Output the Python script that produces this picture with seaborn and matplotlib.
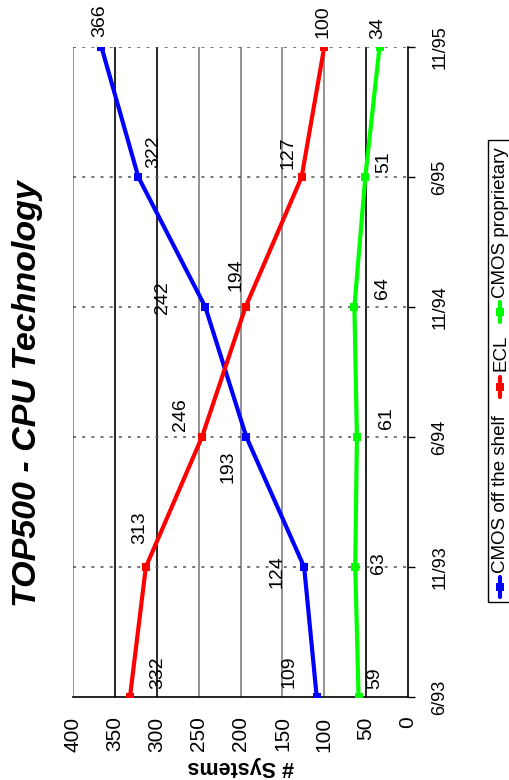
import pandas as pd
import seaborn as sns
import numpy as np
import matplotlib
matplotlib.use('Agg')
import matplotlib.pyplot as plt
from matplotlib.lines import Line2D
from matplotlib.patches import Rectangle

## data
dates = ['6/93', '11/93', '6/94', '11/94', '6/95', '11/95']
cmos_shelf = [109, 124, 193, 242, 322, 366]
ecl = [332, 313, 246, 194, 127, 100]
cmos_prop = [59, 63, 61, 64, 51, 34]
series_names = ['CMOS off the shelf', 'ECL', 'CMOS proprietary']
value_ticks = [0, 50, 100, 150, 200, 250, 300, 350, 400]

colors = ['#0000ff', '#ff0000', '#00ff00']

# label offsets (pixels, chart drawn rotated)
offsets = [
    [(-28, -25), (-27, 5), (-18, 30), (-43, -9), (15, -25), (-2, -26)],
    [(28, -24), (-6, -39), (-21, -22), (-10, -32), (-14, -24), (-1, -25)],
    [(16, -19), (23, -4), (30, -19), (28, -19), (18, -15), (-2, -19)],
]

df = pd.DataFrame({
    'date': dates * 3,
    'pos': list(range(len(dates))) * 3,
    'systems': cmos_shelf + ecl + cmos_prop,
    'series': np.repeat(series_names, len(dates)),
})

sns.set_style('white')
plt.rcParams['font.family'] = ['Liberation Sans', 'DejaVu Sans']
plt.rcParams['text.color'] = 'black'
plt.rcParams['xtick.color'] = 'black'
plt.rcParams['ytick.color'] = 'black'

W, H = 510, 780
fig = plt.figure(figsize=(W / 100, H / 100), dpi=100)
ax = fig.add_axes([73 / W, 1 - 697 / H, (408 - 73) / W, (697 - 47) / H])

def fx(px):
    return px / W

def fy(py):
    return 1 - py / H

## gridlines (value axis drawn horizontally, reversed)
grid_cols = {50: 'black', 100: '#808080', 150: '#808080', 200: '#808080',
             250: '#808080', 300: 'black', 350: 'black', 400: '#808080'}
for v, c in grid_cols.items():
    ax.axvline(v, color=c, lw=1.2, zorder=0)
for i in range(1, len(dates)):
    ax.axhline(i, color='#555555', lw=1.1, linestyle=(0, (2, 4)), zorder=0)

palette = dict(zip(series_names, colors))
sns.lineplot(data=df, x='systems', y='pos', hue='series', palette=palette,
             orient='y', sort=False, marker='s', markersize=6,
             markeredgewidth=0, linewidth=3, legend=False, ax=ax,
             errorbar=None, zorder=3)

for s, vals in enumerate([cmos_shelf, ecl, cmos_prop]):
    for i, v in enumerate(vals):
        dx, dy = offsets[s][i]
        ax.annotate(str(v), (v, i), xytext=(dx * 0.72, -dy * 0.72),
                    textcoords='offset points', rotation=90,
                    ha='center', va='center', fontsize=14, color='black')

ax.set_xlim(400, 0)
ax.set_ylim(0, len(dates) - 1)
ax.set_xticks(value_ticks)
ax.set_xticklabels([str(v) for v in value_ticks], rotation=90, fontsize=15)
ax.set_yticks(range(len(dates)))
ax.set_yticklabels(dates, rotation=90, va='center', fontsize=13)
ax.yaxis.tick_right()
ax.tick_params(axis='x', direction='out', length=5, width=1, pad=9, colors='black')
ax.tick_params(axis='y', direction='out', length=5, width=1, pad=12, colors='black')
ax.set_xlabel('')
ax.set_ylabel('')
ax.spines['top'].set_visible(False)
ax.spines['left'].set_visible(False)
ax.spines['right'].set_color('black')
ax.spines['bottom'].set_color('black')
ax.spines['right'].set_linewidth(1.2)
ax.spines['bottom'].set_linewidth(1.2)

## title and value axis label, rotated like the reference
fig.text(fx(28), fy(394), 'TOP500 - CPU Technology', rotation=90,
         ha='center', va='center', fontsize=24.5, fontweight='bold', fontstyle='italic')
fig.text(fx(241), fy(767), '# Systems', rotation=180,
         ha='center', va='center', fontsize=15.5, fontweight='bold')

## legend (rotated, built by hand)
fig.add_artist(Rectangle((fx(488), fy(602)), fx(30), 462 / H, transform=fig.transFigure,
                         fill=False, edgecolor='black', lw=1, clip_on=False))
legend_pos = [(587, 573), (387, 371), (312, 298)]
for name, col, (my, ty) in zip(series_names, colors, legend_pos):
    fig.add_artist(Line2D([fx(500), fx(500)], [fy(my + 10), fy(my - 10)],
                          transform=fig.transFigure, color=col, lw=3))
    fig.add_artist(Line2D([fx(500)], [fy(my)], transform=fig.transFigure,
                          color=col, marker='s', markersize=6, markeredgewidth=0))
    fig.text(fx(501), fy(ty), name, rotation=90, rotation_mode='anchor',
             ha='left', va='center', fontsize=13.5)

plt.savefig('out.png', dpi=100)
